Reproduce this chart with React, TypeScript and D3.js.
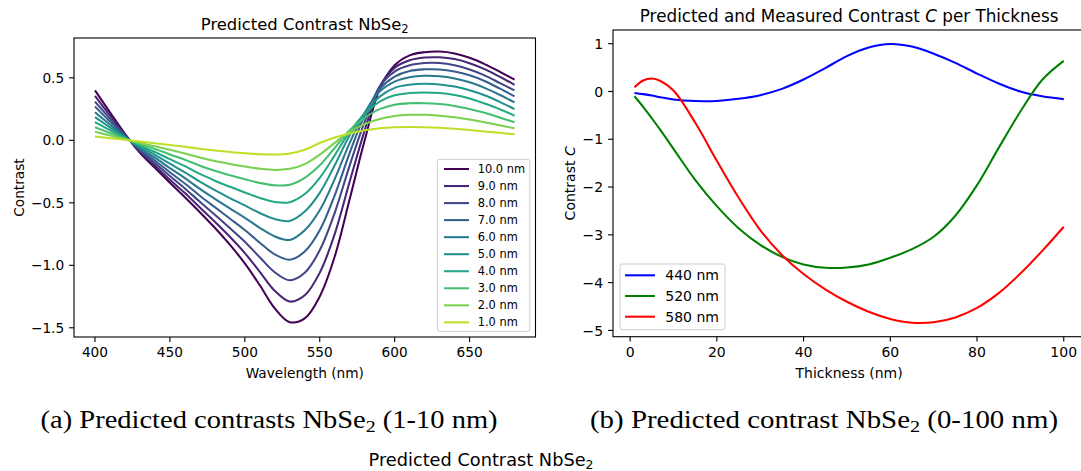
import React from "react";
import * as d3 from "d3";

// ---------- Data: panel (a) ----------
const wavelengths = [400, 410, 420, 430, 440, 450, 460, 470, 480, 490, 500, 510, 520, 530, 540, 550, 560, 570, 580, 590, 600, 610, 620, 630, 640, 650, 660, 670, 680];

const contrast10nm = [0.40, 0.224, 0.052, -0.10, -0.22, -0.34, -0.455, -0.575, -0.70, -0.835, -0.985, -1.16, -1.345, -1.455, -1.425, -1.25, -0.93, -0.47, 0.0, 0.41, 0.60, 0.68, 0.705, 0.71, 0.695, 0.66, 0.61, 0.55, 0.485];
const contrast9nm = [0.355, 0.199, 0.046, -0.091, -0.202, -0.315, -0.422, -0.538, -0.652, -0.772, -0.902, -1.052, -1.204, -1.29, -1.24, -1.06, -0.75, -0.33, 0.08, 0.43, 0.58, 0.64, 0.662, 0.664, 0.65, 0.617, 0.57, 0.51, 0.444];
const contrast8nm = [0.31, 0.174, 0.04, -0.082, -0.182, -0.286, -0.385, -0.492, -0.596, -0.702, -0.811, -0.936, -1.056, -1.12, -1.06, -0.88, -0.58, -0.2, 0.15, 0.43, 0.55, 0.60, 0.618, 0.618, 0.60, 0.567, 0.52, 0.46, 0.399];
const contrast7nm = [0.27, 0.151, 0.035, -0.073, -0.161, -0.255, -0.346, -0.443, -0.535, -0.626, -0.718, -0.819, -0.913, -0.955, -0.89, -0.72, -0.44, -0.10, 0.20, 0.41, 0.51, 0.555, 0.568, 0.567, 0.55, 0.52, 0.475, 0.415, 0.351];
const contrast6nm = [0.225, 0.126, 0.029, -0.063, -0.139, -0.222, -0.302, -0.389, -0.468, -0.545, -0.62, -0.70, -0.769, -0.797, -0.72, -0.56, -0.31, -0.02, 0.22, 0.39, 0.47, 0.505, 0.516, 0.512, 0.495, 0.465, 0.42, 0.365, 0.303];
const contrast5nm = [0.185, 0.104, 0.024, -0.052, -0.116, -0.187, -0.256, -0.331, -0.399, -0.462, -0.521, -0.582, -0.63, -0.645, -0.57, -0.42, -0.20, 0.04, 0.22, 0.35, 0.42, 0.445, 0.452, 0.447, 0.43, 0.40, 0.36, 0.308, 0.25];
const contrast4nm = [0.145, 0.081, 0.019, -0.042, -0.093, -0.151, -0.207, -0.269, -0.323, -0.372, -0.417, -0.461, -0.493, -0.495, -0.43, -0.30, -0.12, 0.07, 0.21, 0.31, 0.36, 0.378, 0.383, 0.378, 0.362, 0.335, 0.295, 0.25, 0.197];
const contrast3nm = [0.105, 0.059, 0.014, -0.031, -0.069, -0.113, -0.156, -0.203, -0.244, -0.28, -0.311, -0.341, -0.36, -0.355, -0.30, -0.20, -0.06, 0.08, 0.18, 0.25, 0.285, 0.296, 0.297, 0.29, 0.275, 0.25, 0.22, 0.183, 0.144];
const contrast2nm = [0.068, 0.038, 0.009, -0.021, -0.047, -0.076, -0.106, -0.138, -0.166, -0.189, -0.209, -0.227, -0.237, -0.228, -0.19, -0.115, -0.02, 0.07, 0.13, 0.17, 0.195, 0.204, 0.204, 0.197, 0.185, 0.167, 0.145, 0.12, 0.096];
const contrast1nm = [0.03, 0.017, 0.004, -0.01, -0.023, -0.038, -0.052, -0.068, -0.082, -0.094, -0.103, -0.111, -0.114, -0.105, -0.075, -0.022, 0.022, 0.055, 0.08, 0.097, 0.105, 0.107, 0.105, 0.10, 0.092, 0.082, 0.071, 0.06, 0.048];

const thicknessLabels = ["10.0 nm", "9.0 nm", "8.0 nm", "7.0 nm", "6.0 nm", "5.0 nm", "4.0 nm", "3.0 nm", "2.0 nm", "1.0 nm"];
const thicknessCurves = [contrast10nm, contrast9nm, contrast8nm, contrast7nm, contrast6nm, contrast5nm, contrast4nm, contrast3nm, contrast2nm, contrast1nm];

const xTicksA = [400, 450, 500, 550, 600, 650];
const yTicksA = [-1.5, -1.0, -0.5, 0.0, 0.5];

// ---------- Data: panel (b) ----------
const thickness = [1, 3, 5, 7, 10, 15, 20, 25, 30, 35, 40, 45, 50, 55, 60, 65, 70, 75, 80, 85, 90, 95, 100];
const contrast440 = [-0.03, -0.055, -0.084, -0.12, -0.168, -0.2, -0.197, -0.154, -0.077, 0.055, 0.25, 0.49, 0.74, 0.92, 0.995, 0.94, 0.79, 0.6, 0.375, 0.167, 0.0, -0.1, -0.16];
const contrast520 = [-0.1, -0.32, -0.56, -0.81, -1.2, -1.85, -2.4, -2.86, -3.21, -3.46, -3.62, -3.69, -3.685, -3.62, -3.48, -3.3, -3.04, -2.6, -1.96, -1.18, -0.42, 0.24, 0.64];
const contrast580 = [0.09, 0.23, 0.27, 0.22, 0.02, -0.65, -1.45, -2.22, -2.9, -3.42, -3.82, -4.14, -4.4, -4.61, -4.76, -4.84, -4.83, -4.73, -4.53, -4.22, -3.81, -3.34, -2.83];
const wavelengthLabels = ["440 nm", "520 nm", "580 nm"];
const wavelengthColors = ["#0000ff", "#008000", "#ff0000"];

const xTicksB = [0, 20, 40, 60, 80, 100];
const yTicksB = [-5, -4, -3, -2, -1, 0, 1];

const FONT = "DejaVu Sans, sans-serif";
const fmtA = (v: number) => (v < 0 ? "\u2212" : "") + Math.abs(v).toFixed(1);
const fmtB = (v: number) => (v < 0 ? "\u2212" : "") + Math.abs(v).toString();

function pad(ext: [number, number]): [number, number] {
  const m = (ext[1] - ext[0]) * 0.05;
  return [ext[0] - m, ext[1] + m];
}

export default function App() {
  // Panel A geometry
  const A = { x0: 74, x1: 535.5, y0: 38, y1: 337 };
  const xA = d3.scaleLinear().domain(pad(d3.extent(wavelengths) as [number, number])).range([A.x0, A.x1]);
  const yA = d3.scaleLinear().domain(pad([-1.465, 0.71])).range([A.y1, A.y0]);
  const lineA = d3
    .line<number>()
    .x((_, i) => xA(wavelengths[i]))
    .y((d) => yA(d))
    .curve(d3.curveCatmullRom.alpha(0.5));

  // Panel B geometry
  const B = { x0: 613, x1: 1085.2, y0: 30, y1: 336.7 };
  const allB = [...contrast440, ...contrast520, ...contrast580];
  const xB = d3.scaleLinear().domain(pad(d3.extent(thickness) as [number, number])).range([B.x0, B.x1]);
  const yB = d3.scaleLinear().domain(pad(d3.extent(allB) as [number, number])).range([B.y1, B.y0]);
  const lineB = d3
    .line<number>()
    .x((_, i) => xB(thickness[i]))
    .y((d) => yB(d))
    .curve(d3.curveCatmullRom.alpha(0.5));
  const seriesB = [contrast440, contrast520, contrast580];

  const tickLen = 4.9;
  const fsA = 13.7;
  const fsB = 14;

  return (
    <svg
      width={1081}
      height={471}
      style={{ position: "absolute", left: 0, top: 0, background: "#fff" }}
      fontFamily={FONT}
    >
      <rect x={0} y={0} width={1081} height={471} fill="#fff" />

      <defs>
        <clipPath id="clipA">
          <rect x={A.x0} y={A.y0} width={A.x1 - A.x0} height={A.y1 - A.y0} />
        </clipPath>
        <clipPath id="clipB">
          <rect x={B.x0} y={B.y0} width={B.x1 - B.x0} height={B.y1 - B.y0} />
        </clipPath>
      </defs>

      {/* ---------------- Panel A ---------------- */}
      <g clipPath="url(#clipA)">
        {thicknessCurves.map((vals, i) => (
          <path
            key={i}
            d={lineA(vals) || ""}
            fill="none"
            stroke={d3.interpolateViridis(i / 10)}
            strokeWidth={2.05}
            strokeLinejoin="round"
          />
        ))}
      </g>
      <rect x={A.x0} y={A.y0} width={A.x1 - A.x0} height={A.y1 - A.y0} fill="none" stroke="#000" strokeWidth={1.1} />
      {xTicksA.map((t) => (
        <g key={t}>
          <line x1={xA(t)} x2={xA(t)} y1={A.y1} y2={A.y1 + tickLen} stroke="#000" strokeWidth={1.1} />
          <text x={xA(t)} y={A.y1 + tickLen + 4.9 + 10} textAnchor="middle" fontSize={fsA} fill="#000">
            {t}
          </text>
        </g>
      ))}
      {yTicksA.map((t) => (
        <g key={t}>
          <line x1={A.x0 - tickLen} x2={A.x0} y1={yA(t)} y2={yA(t)} stroke="#000" strokeWidth={1.1} />
          <text x={A.x0 - tickLen - 4.9} y={yA(t) + 5} textAnchor="end" fontSize={fsA} fill="#000">
            {fmtA(t)}
          </text>
        </g>
      ))}
      <text x={(A.x0 + A.x1) / 2} y={378} textAnchor="middle" fontSize={fsA} fill="#000">
        Wavelength (nm)
      </text>
      <text
        transform={`translate(23.5,${(A.y0 + A.y1) / 2}) rotate(-90)`}
        textAnchor="middle"
        fontSize={fsA}
        fill="#000"
      >
        Contrast
      </text>
      <text x={(A.x0 + A.x1) / 2} y={A.y0 - 8.2} textAnchor="middle" fontSize={16.4} fill="#000">
        Predicted Contrast NbSe
        <tspan fontSize={11.5} dy={3}>2</tspan>
      </text>

      {/* Legend A */}
      <rect x={437.3} y={159.3} width={92.5} height={172} rx={2.5} fill="#fff" fillOpacity={0.8} stroke="#cccccc" strokeWidth={1} />
      {thicknessLabels.map((lab, i) => {
        const cy = 169 + i * 17.04;
        return (
          <g key={lab}>
            <line x1={444} x2={469} y1={cy} y2={cy} stroke={d3.interpolateViridis(i / 10)} strokeWidth={2.05} />
            <text x={477.7} y={cy + 4} fontSize={11.4} fill="#000">
              {lab}
            </text>
          </g>
        );
      })}

      {/* ---------------- Panel B ---------------- */}
      <g clipPath="url(#clipB)">
        {seriesB.map((vals, i) => (
          <path
            key={i}
            d={lineB(vals) || ""}
            fill="none"
            stroke={wavelengthColors[i]}
            strokeWidth={2.05}
            strokeLinejoin="round"
          />
        ))}
      </g>
      <rect x={B.x0} y={B.y0} width={B.x1 - B.x0} height={B.y1 - B.y0} fill="none" stroke="#000" strokeWidth={1.1} />
      {xTicksB.map((t) => (
        <g key={t}>
          <line x1={xB(t)} x2={xB(t)} y1={B.y1} y2={B.y1 + tickLen} stroke="#000" strokeWidth={1.1} />
          <text x={xB(t)} y={B.y1 + tickLen + 4.9 + 10.2} textAnchor="middle" fontSize={fsB} fill="#000">
            {t}
          </text>
        </g>
      ))}
      {yTicksB.map((t) => (
        <g key={t}>
          <line x1={B.x0 - tickLen} x2={B.x0} y1={yB(t)} y2={yB(t)} stroke="#000" strokeWidth={1.1} />
          <text x={B.x0 - tickLen - 4.9} y={yB(t) + 5.1} textAnchor="end" fontSize={fsB} fill="#000">
            {fmtB(t)}
          </text>
        </g>
      ))}
      <text x={(B.x0 + B.x1) / 2} y={378} textAnchor="middle" fontSize={fsB} fill="#000">
        Thickness (nm)
      </text>
      <text
        transform={`translate(574.5,${(B.y0 + B.y1) / 2}) rotate(-90)`}
        textAnchor="middle"
        fontSize={fsB}
        fill="#000"
      >
        Contrast <tspan fontStyle="italic">C</tspan>
      </text>
      <text x={(B.x0 + B.x1) / 2} y={B.y0 - 8.2} textAnchor="middle" fontSize={16.8} fill="#000">
        Predicted and Measured Contrast <tspan fontStyle="italic">C</tspan> per Thickness
      </text>

      {/* Legend B */}
      <rect x={620} y={264} width={105} height={65.7} rx={2.5} fill="#fff" fillOpacity={0.8} stroke="#cccccc" strokeWidth={1} />
      {wavelengthLabels.map((lab, i) => {
        const cy = 275.3 + i * 20.7;
        return (
          <g key={lab}>
            <line x1={625} x2={655} y1={cy} y2={cy} stroke={wavelengthColors[i]} strokeWidth={2.05} />
            <text x={665.3} y={cy + 5} fontSize={14} fill="#000">
              {lab}
            </text>
          </g>
        );
      })}

      {/* ---------------- Captions ---------------- */}
      <text x={40.6} y={428} fontFamily="Liberation Serif, serif" fontSize={25} fill="#000" textLength={457} lengthAdjust="spacingAndGlyphs">
        (a) Predicted contrasts NbSe<tspan fontSize={17.5} dy={4}>2</tspan><tspan dy={-4}> (1-10 nm)</tspan>
      </text>
      <text x={590} y={428} fontFamily="Liberation Serif, serif" fontSize={25} fill="#000" textLength={468} lengthAdjust="spacingAndGlyphs">
        (b) Predicted contrast NbSe<tspan fontSize={17.5} dy={4}>2</tspan><tspan dy={-4}> (0-100 nm)</tspan>
      </text>
      <text x={368.5} y={465.5} fontSize={17.7} fill="#000" textLength={225} lengthAdjust="spacingAndGlyphs">
        Predicted Contrast NbSe<tspan fontSize={12.4} dy={3}>2</tspan>
      </text>
    </svg>
  );
}
